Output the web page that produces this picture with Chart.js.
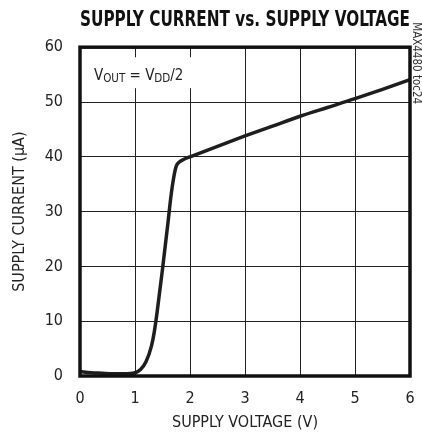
<!DOCTYPE html>
<html>
<head>
  <title>Supply Current vs. Supply Voltage</title>
  <script src="https://cdn.jsdelivr.net/npm/chart.js"></script>
  <style>
    html, body { margin: 0; padding: 0; background: #fff; }
    #wrap { width: 422px; height: 434px; }
  </style>
</head>
<body>
  <div id="wrap"><canvas id="curveChart" width="422" height="434"></canvas></div>

  <script>
    const FONT = '"DejaVu Sans Condensed", "Liberation Sans", sans-serif';

    // supply voltage (V) and supply current (uA)
    const voltage = [0, 0.2, 0.4, 0.6, 0.8, 1.0, 1.1, 1.2, 1.3, 1.35, 1.4, 1.5, 1.6, 1.65, 1.7, 1.75, 1.8, 1.9, 2.0, 2.5, 3, 3.5, 4, 4.5, 5, 5.5, 6];
    const current = [0.8, 0.6, 0.5, 0.4, 0.4, 0.6, 1.2, 2.6, 5.5, 8, 11.5, 19.5, 28, 32.5, 36, 38.3, 39, 39.6, 40.0, 41.9, 43.8, 45.6, 47.4, 49.0, 50.6, 52.3, 54.1];

    const xTicks = [0, 1, 2, 3, 4, 5, 6];
    const yTicks = [0, 10, 20, 30, 40, 50, 60];

    const titleText = "SUPPLY CURRENT vs. SUPPLY VOLTAGE";
    const xTitle = "SUPPLY VOLTAGE (V)";
    const yTitle = "SUPPLY CURRENT (\u00B5A)";
    const sideNote = "MAX4480 toc24";

    // box around the plot, the V_OUT note and the side tag
    const extras = {
      id: "extras",
      beforeDatasetsDraw(chart) {
        const ctx = chart.ctx;
        const a = chart.chartArea;
        ctx.save();
        ctx.fillStyle = "#fff";
        ctx.fillRect(a.left + 9, a.top + 10, 106, 31);
        // V_OUT = V_DD/2
        let x = a.left + 14;
        const y = a.top + 33;
        const parts = [["V", 15, 0], ["OUT", 11.5, 1.5], [" = V", 15, 0], ["DD", 11.5, 1.5], ["/2", 15, 0]];
        ctx.fillStyle = "#222";
        ctx.textBaseline = "alphabetic";
        parts.forEach(p => {
          ctx.font = p[1] + "px " + FONT;
          ctx.fillText(p[0], x, y + p[2]);
          x += ctx.measureText(p[0]).width;
        });
        ctx.restore();
      },
      afterDraw(chart) {
        const ctx = chart.ctx;
        const a = chart.chartArea;
        ctx.save();
        ctx.strokeStyle = "#111";
        ctx.lineWidth = 3.5;
        ctx.strokeRect(a.left, a.top, a.right - a.left, a.bottom - a.top);
        ctx.translate(a.right + 6, a.top - 25);
        ctx.rotate(Math.PI / 2);
        ctx.font = "11.5px " + FONT;
        ctx.fillStyle = "#333";
        ctx.textBaseline = "middle";
        ctx.fillText(sideNote, 0, 0);
        ctx.restore();
      }
    };

    const ctx = document.getElementById("curveChart").getContext("2d");
    new Chart(ctx, {
      type: "line",
      data: {
        datasets: [{
          data: voltage.map((v, i) => ({ x: v, y: current[i] })),
          borderColor: "#1e1e1e",
          borderWidth: 3.5,
          pointRadius: 0,
          cubicInterpolationMode: "monotone",
          fill: false
        }]
      },
      options: {
        responsive: false,
        animation: false,
        layout: { padding: { top: 0, right: 0, left: 0, bottom: 0 } },
        plugins: {
          legend: { display: false },
          tooltip: { enabled: false },
          title: {
            display: true,
            text: titleText,
            fullSize: false,
            color: "#111",
            font: { family: FONT, size: 21, weight: "bold" },
            padding: { top: 8, bottom: 14 }
          }
        },
        scales: {
          x: {
            type: "linear",
            min: 0,
            max: 6,
            afterBuildTicks: s => { s.ticks = xTicks.map(v => ({ value: v })); },
            afterFit: s => { s.height = 58; s.paddingRight = 12; },
            grid: { color: "#222", lineWidth: 1, drawTicks: false },
            border: { display: false },
            ticks: { color: "#222", padding: 13, font: { family: FONT, size: 16 } },
            title: {
              display: true,
              text: xTitle,
              color: "#222",
              font: { family: FONT, size: 16 },
              padding: { top: 0, bottom: 2 }
            }
          },
          y: {
            type: "linear",
            min: 0,
            max: 60,
            afterBuildTicks: s => { s.ticks = yTicks.map(v => ({ value: v })); },
            afterFit: s => { s.width = 80; },
            grid: { color: "#222", lineWidth: 1, drawTicks: false },
            border: { display: false },
            ticks: { color: "#222", padding: 17, font: { family: FONT, size: 16 } },
            title: {
              display: true,
              text: yTitle,
              color: "#222",
              font: { family: FONT, size: 16 },
              padding: { top: 10, bottom: 0 }
            }
          }
        }
      },
      plugins: [extras]
    });
  </script>
</body>
</html>
